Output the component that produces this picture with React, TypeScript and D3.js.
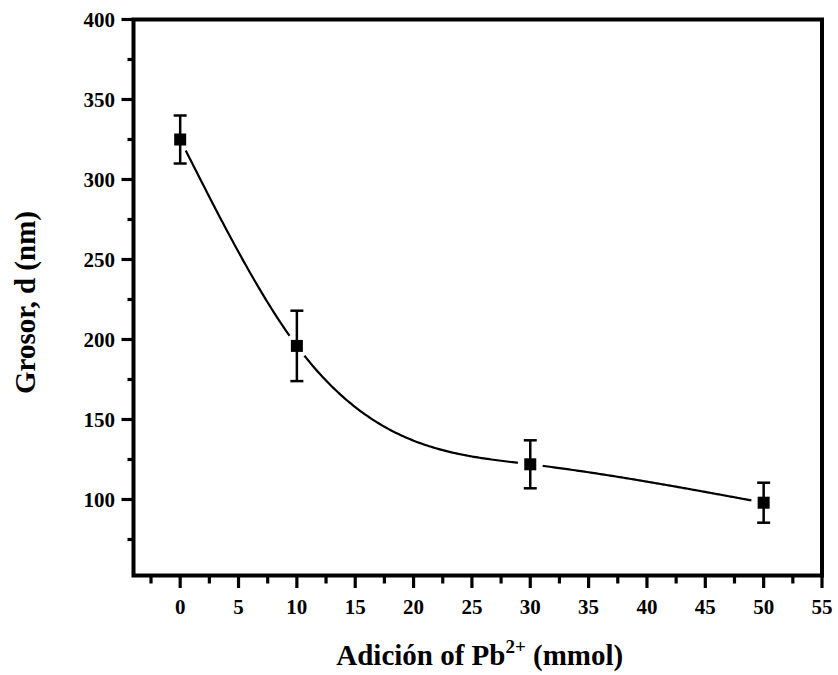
import React from "react";
import * as d3 from "d3";

const xValues = [0, 10, 30, 50];
const yValues = [325, 196, 122, 98];
const yErrors = [15, 22, 15, 12.5];

const xMajorTicks = [0, 5, 10, 15, 20, 25, 30, 35, 40, 45, 50, 55];
const xMinorTicks = [-2.5, 2.5, 7.5, 12.5, 17.5, 22.5, 27.5, 32.5, 37.5, 42.5, 47.5, 52.5];
const yMajorTicks = [100, 150, 200, 250, 300, 350, 400];
const yMinorTicks = [75, 125, 175, 225, 275, 325, 375];

const W = 838;
const H = 675;
const L = 133.5, R = 822, T = 19.5, B = 575.5;
const FONT = "'Liberation Serif', 'Times New Roman', serif";

// natural cubic spline in data space (the fitted smooth line of the original)
function naturalSpline(xs: number[], ys: number[]) {
  const n = xs.length;
  const h: number[] = [];
  for (let i = 0; i < n - 1; i++) h.push(xs[i + 1] - xs[i]);
  const a: number[] = new Array(n).fill(0);
  const b: number[] = new Array(n).fill(1);
  const c: number[] = new Array(n).fill(0);
  const r: number[] = new Array(n).fill(0);
  for (let i = 1; i < n - 1; i++) {
    a[i] = h[i - 1];
    b[i] = 2 * (h[i - 1] + h[i]);
    c[i] = h[i];
    r[i] = 6 * ((ys[i + 1] - ys[i]) / h[i] - (ys[i] - ys[i - 1]) / h[i - 1]);
  }
  const cp = new Array(n).fill(0);
  const rp = new Array(n).fill(0);
  cp[0] = c[0] / b[0];
  rp[0] = r[0] / b[0];
  for (let i = 1; i < n; i++) {
    const m = b[i] - a[i] * cp[i - 1];
    cp[i] = c[i] / m;
    rp[i] = (r[i] - a[i] * rp[i - 1]) / m;
  }
  const M = new Array(n).fill(0);
  M[n - 1] = rp[n - 1];
  for (let i = n - 2; i >= 0; i--) M[i] = rp[i] - cp[i] * M[i + 1];
  return (x: number) => {
    let i = 0;
    while (i < n - 2 && x > xs[i + 1]) i++;
    const hi = h[i];
    const t1 = xs[i + 1] - x;
    const t0 = x - xs[i];
    return (
      (M[i] * t1 * t1 * t1) / (6 * hi) +
      (M[i + 1] * t0 * t0 * t0) / (6 * hi) +
      (ys[i] / hi - (M[i] * hi) / 6) * t1 +
      (ys[i + 1] / hi - (M[i + 1] * hi) / 6) * t0
    );
  };
}

export default function App() {
  const x = d3.scaleLinear().domain([-4, 55]).range([L, R]);
  const y = d3.scaleLinear().domain([52.5, 400]).range([B, T]);

  const f = naturalSpline(xValues, yValues);
  const x0 = xValues[0];
  const x1 = xValues[xValues.length - 1];
  const samples = d3.range(0, 301).map((i) => {
    const xv = x0 + ((x1 - x0) * i) / 300;
    return [xv, f(xv)] as [number, number];
  });
  const line = d3
    .line<[number, number]>()
    .x((d) => x(d[0]))
    .y((d) => y(d[1]));

  return (
    <div style={{ position: "absolute", left: 0, top: 0 }}>
      <svg width={W} height={H} style={{ display: "block", background: "#fff" }}>
        <defs>
          <mask id="gapMask" maskUnits="userSpaceOnUse" x={0} y={0} width={W} height={H}>
            <rect x={0} y={0} width={W} height={H} fill="#fff" />
            {xValues.map((xv, i) => (
              <circle key={i} cx={x(xv)} cy={y(yValues[i])} r={12.5} fill="#000" />
            ))}
          </mask>
        </defs>

        <path
          d={line(samples) || ""}
          fill="none"
          stroke="#000"
          strokeWidth={2.2}
          mask="url(#gapMask)"
        />

        {xValues.map((xv, i) => {
          const cx = x(xv);
          const yt = y(yValues[i] + yErrors[i]);
          const yb = y(yValues[i] - yErrors[i]);
          const cy = y(yValues[i]);
          return (
            <g key={i}>
              <line x1={cx} x2={cx} y1={yt} y2={yb} stroke="#000" strokeWidth={2.5} />
              <line x1={cx - 6.5} x2={cx + 6.5} y1={yt} y2={yt} stroke="#000" strokeWidth={2.5} />
              <line x1={cx - 6.5} x2={cx + 6.5} y1={yb} y2={yb} stroke="#000" strokeWidth={2.5} />
              <rect x={cx - 6} y={cy - 6} width={12} height={12} fill="#000" />
            </g>
          );
        })}

        <rect x={L} y={T} width={R - L} height={B - T} fill="none" stroke="#000" strokeWidth={4} />

        {xMajorTicks.map((t) => (
          <g key={"xM" + t}>
            <line x1={x(t)} x2={x(t)} y1={B} y2={B + 12.5} stroke="#000" strokeWidth={3.2} />
            <text
              x={x(t)}
              y={614}
              textAnchor="middle"
              fontFamily={FONT}
              fontWeight="bold"
              fontSize={21}
              fill="#000"
            >
              {t}
            </text>
          </g>
        ))}
        {xMinorTicks.map((t) => (
          <line key={"xm" + t} x1={x(t)} x2={x(t)} y1={B} y2={B + 8} stroke="#000" strokeWidth={3.2} />
        ))}

        {yMajorTicks.map((t) => (
          <g key={"yM" + t}>
            <line x1={L} x2={L - 12} y1={y(t)} y2={y(t)} stroke="#000" strokeWidth={3.2} />
            <text
              x={115}
              y={y(t)}
              dy="0.36em"
              textAnchor="end"
              fontFamily={FONT}
              fontWeight="bold"
              fontSize={21}
              fill="#000"
            >
              {t}
            </text>
          </g>
        ))}
        {yMinorTicks.map((t) => (
          <line key={"ym" + t} x1={L} x2={L - 6} y1={y(t)} y2={y(t)} stroke="#000" strokeWidth={3.2} />
        ))}

        <text
          x={(L + R) / 2 + 2}
          y={665}
          textAnchor="middle"
          fontFamily={FONT}
          fontWeight="bold"
          fontSize={29}
          fill="#000"
        >
          Adición of Pb
          <tspan fontSize={19} dy={-12}>2+</tspan>
          <tspan dy={12}> (mmol)</tspan>
        </text>
        <text
          transform={`translate(35, ${(T + B) / 2 + 5}) rotate(-90)`}
          textAnchor="middle"
          fontFamily={FONT}
          fontWeight="bold"
          fontSize={29}
          fill="#000"
        >
          Grosor, d (nm)
        </text>
      </svg>
    </div>
  );
}
